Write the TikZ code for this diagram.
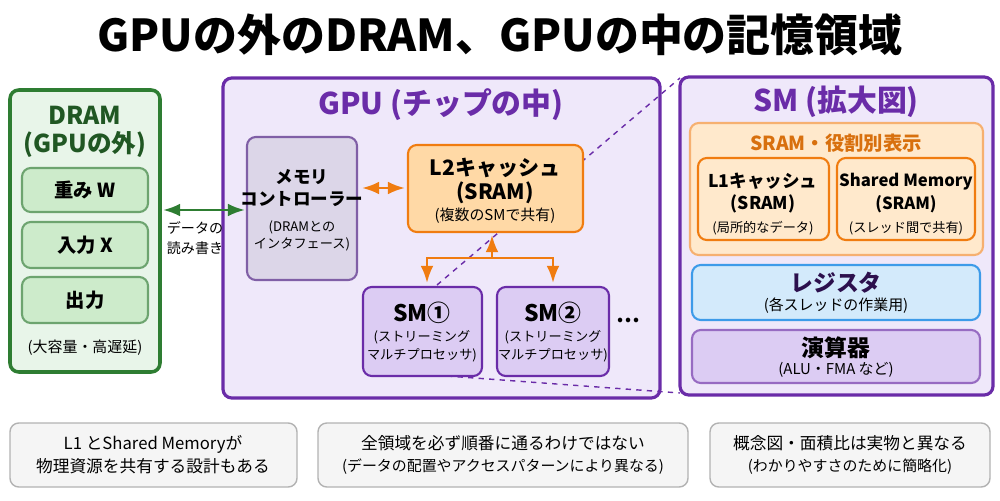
\documentclass[tikz,border=0pt]{standalone}
\usepackage{fontspec}
\setmainfont{Noto Sans CJK JP}
\usetikzlibrary{arrows.meta}
\definecolor{dgreen}{HTML}{2E7D32}
\definecolor{lgreen}{HTML}{E8F5E9}
\definecolor{mgreen}{HTML}{CDEBCB}
\definecolor{dpurple}{HTML}{6A2CA8}
\definecolor{lpurple}{HTML}{EFE8FA}
\definecolor{mpurple}{HTML}{DCCCF3}
\definecolor{gpurple}{HTML}{DCD6E8}
\definecolor{dorange}{HTML}{F07C10}
\definecolor{lorange}{HTML}{FFE9CC}
\definecolor{morange}{HTML}{FFD9A6}
\definecolor{dblue}{HTML}{3D9BE9}
\definecolor{lblue}{HTML}{D3EAFB}
\definecolor{tpurple}{HTML}{4A1A80}
\tikzset{
  box/.style={rounded corners=5pt, line width=1.2pt},
  big/.style={font=\bfseries\fontsize{14}{17}\selectfont},
  mid/.style={font=\bfseries\fontsize{11}{14}\selectfont, align=center},
  sml/.style={font=\fontsize{7.5}{10}\selectfont, align=center},
  note/.style={font=\fontsize{9.5}{13}\selectfont, align=center}
}
\begin{document}
\begin{tikzpicture}[x=0.02cm,y=-0.02cm]
    \useasboundingbox (0,0) rectangle (1000,500);
    %Title
    \node[font=\bfseries\fontsize{25}{30}\selectfont] (title) at (500,35) {GPUの外のDRAM、GPUの中の記憶領域};
    %DRAM
    \draw[box, dgreen, fill=lgreen, line width=2pt] (10,90) rectangle (160,372);
    \node[big, text=dgreen!70!black] (dram) at (85,115) {DRAM};
    \node[big, text=dgreen!70!black] (dramsub) at (85,144) {(GPUの外)};
    \draw[box, dgreen!70, fill=mgreen] (22,168) rectangle (148,212);
    \node[mid] (w) at (85,190) {重み W};
    \draw[box, dgreen!70, fill=mgreen] (22,222) rectangle (148,268);
    \node[mid] (x) at (85,245) {入力 X};
    \draw[box, dgreen!70, fill=mgreen] (22,277) rectangle (148,323);
    \node[mid] (out) at (85,300) {出力};
    \node[sml, font=\fontsize{8.5}{10}\selectfont] (cap) at (85,348) {(大容量・高遅延)};
    %GPU
    \draw[box, dpurple, fill=lpurple, line width=1.8pt] (223,78) rectangle (660,398);
    \node[big, text=dpurple, font=\bfseries\fontsize{17}{20}\selectfont] (gpu) at (441,105) {GPU (チップの中)};
    %zoom lines
    \coordinate (smtl) at (680,78);
    \coordinate (smbl) at (680,393);
    \draw[dashed, dpurple, thick] (437,285) -- (smtl);
    \draw[dashed, dpurple, thick] (447,376) -- (smbl);
    %Memory controller
    \draw[box, tpurple!70, fill=gpurple] (247,137) rectangle (357,280);
    \node[mid, font=\bfseries\fontsize{10}{13}\selectfont] (mc) at (302,188) {メモリ\\コントローラー};
    \node[sml] (mcsub) at (302,236) {(DRAMとの\\インタフェース)};
    \node[sml, font=\fontsize{8}{11}\selectfont] (rw) at (195,238) {データの\\読み書き};
    \draw[{Latex}-{Latex}, dgreen, line width=1.5pt] (163,210) -- (245,210);
    %L2
    \draw[box, dorange, fill=morange] (408,145) rectangle (583,232);
    \node[mid, font=\bfseries\fontsize{12}{14}\selectfont] (l2) at (495,168) {L2キャッシュ};
    \node[mid, font=\bfseries\fontsize{12}{14}\selectfont] (l2s) at (495,193) {(SRAM)};
    \node[sml, font=\fontsize{8.5}{10}\selectfont] (l2n) at (495,216) {(複数のSMで共有)};
    \draw[{Latex}-{Latex}, dorange, line width=1.5pt] (362,188) -- (405,188);
    \draw[-{Latex}, dorange, line width=1.5pt] (492,258) -- (492,235);
    \draw[-{Latex}, dorange, line width=1.5pt] (492,258) -- (427,258) -- (427,283);
    \draw[-{Latex}, dorange, line width=1.5pt] (492,258) -- (553,258) -- (553,283);
    %SMs
    \draw[box, dpurple, fill=mpurple] (363,287) rectangle (482,376);
    \node[mid, font=\bfseries\fontsize{13}{15}\selectfont] (sm1) at (422,313) {SM①};
    \node[sml] (sm1s) at (422,346) {(ストリーミング\\マルチプロセッサ)};
    \draw[box, dpurple, fill=mpurple] (497,287) rectangle (609,376);
    \node[mid, font=\bfseries\fontsize{13}{15}\selectfont] (sm2) at (553,313) {SM②};
    \node[sml] (sm2s) at (553,346) {(ストリーミング\\マルチプロセッサ)};
    \node[font=\bfseries\fontsize{12}{14}\selectfont] (dots) at (628,320) {…};
    %SM zoom
    \draw[box, dpurple, fill=lpurple, line width=1.8pt] (680,77) rectangle (993,395);
    \node[big, text=dpurple, font=\bfseries\fontsize{17}{20}\selectfont] (smz) at (836,102) {SM (拡大図)};
    \draw[box, dorange!60, fill=lorange] (690,123) rectangle (983,255);
    \node[mid, text=dorange!90!black] (sram) at (836,143) {SRAM・役割別表示};
    \draw[box, dorange, fill=lorange] (698,158) rectangle (829,240);
    \node[mid, font=\bfseries\fontsize{10}{13}\selectfont] (l1) at (763,193) {L1キャッシュ\\(SRAM)};
    \node[sml] (l1n) at (763,228) {(局所的なデータ)};
    \draw[box, dorange, fill=lorange] (837,158) rectangle (975,240);
    \node[mid, font=\bfseries\fontsize{9.5}{13}\selectfont] (shm) at (906,193) {Shared Memory\\(SRAM)};
    \node[sml] (shmn) at (906,228) {(スレッド間で共有)};
    \draw[box, dblue, fill=lblue] (692,265) rectangle (980,320);
    \node[mid, font=\bfseries\fontsize{13}{15}\selectfont, text=tpurple!60!black] (reg) at (836,283) {レジスタ};
    \node[sml, font=\fontsize{8.5}{10}\selectfont] (regn) at (836,306) {(各スレッドの作業用)};
    \draw[box, dpurple!70, fill=mpurple] (692,330) rectangle (980,383);
    \node[mid, font=\bfseries\fontsize{13}{15}\selectfont] (alu) at (836,348) {演算器};
    \node[sml, font=\fontsize{8.5}{10}\selectfont] (alun) at (836,370) {(ALU・FMA など)};
    %Notes
    \draw[box, gray!60, fill=gray!8, line width=0.8pt] (10,423) rectangle (297,487);
    \node[note] (n1) at (153,455) {L1 とShared Memoryが\\物理資源を共有する設計もある};
    \draw[box, gray!60, fill=gray!8, line width=0.8pt] (318,423) rectangle (688,487);
    \node[note] (n2) at (503,455) {全領域を必ず順番に通るわけではない\\{\fontsize{8.5}{12}\selectfont (データの配置やアクセスパターンにより異なる)}};
    \draw[box, gray!60, fill=gray!8, line width=0.8pt] (710,423) rectangle (990,487);
    \node[note] (n3) at (850,455) {概念図・面積比は実物と異なる\\{\fontsize{8.5}{12}\selectfont (わかりやすさのために簡略化)}};
\end{tikzpicture}
\end{document}
